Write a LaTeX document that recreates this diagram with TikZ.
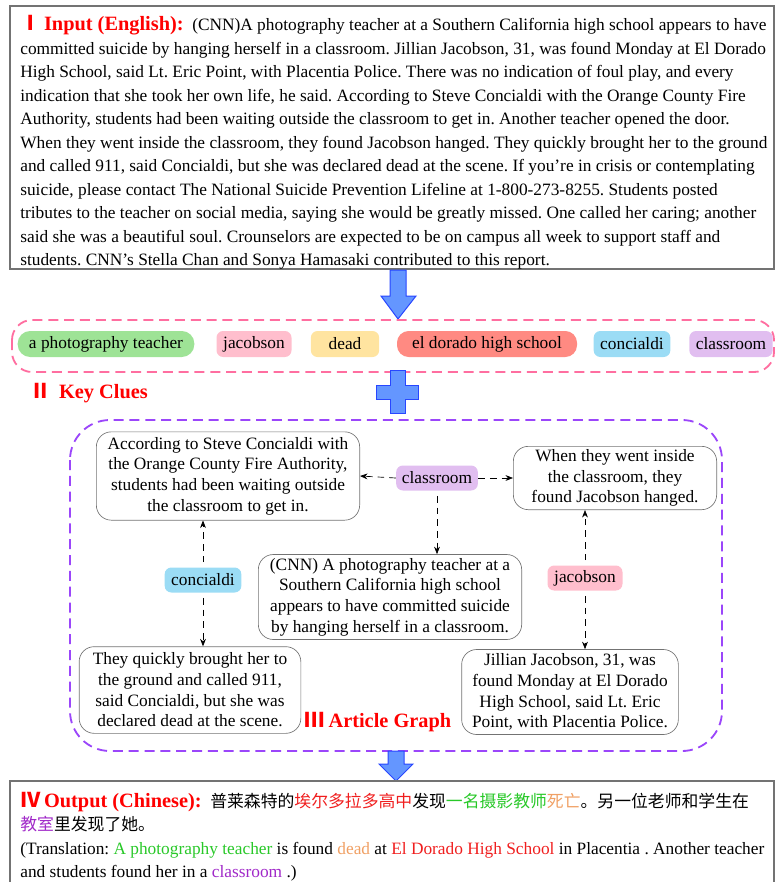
\documentclass[tikz,border=0pt]{standalone}
\usepackage{fontspec}
\setmainfont{Liberation Serif}
\newfontfamily\cjk{Noto Sans CJK SC}
\usetikzlibrary{arrows.meta}
\frenchspacing

\definecolor{keygreen}{RGB}{158,227,150}
\definecolor{keypink}{RGB}{255,190,205}
\definecolor{keyyellow}{RGB}{255,228,160}
\definecolor{keyred}{RGB}{255,138,130}
\definecolor{keyblue}{RGB}{155,220,245}
\definecolor{keypurple}{RGB}{225,190,240}
\definecolor{cluepink}{RGB}{255,110,160}
\definecolor{graphpurple}{RGB}{155,70,250}
\definecolor{arrowblue}{RGB}{100,150,255}
\definecolor{arrowedge}{RGB}{40,70,255}
\definecolor{titlered}{RGB}{255,0,0}
\definecolor{outgreen}{RGB}{40,200,40}
\definecolor{outorange}{RGB}{240,160,100}
\definecolor{outred}{RGB}{240,30,30}
\definecolor{outpurple}{RGB}{160,40,200}

\newcommand{\stagetitle}[2]{\textcolor{titlered}{\fontsize{12.2}{12}\selectfont\bfseries{\cjk #1}\,#2}}

\begin{document}
\begin{tikzpicture}[x=0.6pt,y=-0.6pt,
    font=\fontsize{10.4}{12.4}\selectfont,
    key/.style={rounded corners=4pt,inner sep=1pt,minimum height=15.6pt},
    sent/.style={draw=black!55,rounded corners=9pt,align=center,inner sep=1pt},
    link/.style={dash pattern=on 4pt off 3pt,-{Stealth[length=4.5pt,width=3.5pt]}},
    blockarrow/.style={fill=arrowblue,draw=arrowedge,line width=0.6pt}]
    \useasboundingbox (0,0) rectangle (775,882);
    % Input
    \draw[black!55,line width=0.9pt] (10,6) rectangle (774,269);
    \node[anchor=north west,align=left,inner sep=0pt,font=\fontsize{10.4}{14.1}\selectfont] (input) at (20,15)
        {\stagetitle{Ⅰ}{Input (English):}\ \ (CNN)A photography teacher at a Southern California high school appears to have\\
        committed suicide by hanging herself in a classroom. Jillian Jacobson, 31, was found Monday at El Dorado\\
        High School, said Lt. Eric Point, with Placentia Police. There was no indication of foul play, and every\\
        indication that she took her own life, he said. According to Steve Concialdi with the Orange County Fire\\
        Authority, students had been waiting outside the classroom to get in. Another teacher opened the door.\\
        When they went inside the classroom, they found Jacobson hanged. They quickly brought her to the ground\\
        and called 911, said Concialdi, but she was declared dead at the scene. If you're in crisis or contemplating\\
        suicide, please contact The National Suicide Prevention Lifeline at 1-800-273-8255. Students posted\\
        tributes to the teacher on social media, saying she would be greatly missed. One called her caring; another\\
        said she was a beautiful soul. Crounselors are expected to be on campus all week to support staff and\\
        students. CNN's Stella Chan and Sonya Hamasaki contributed to this report.};
    \draw[blockarrow] (390,270) -- (406,270) -- (406,296) -- (416,296) -- (398,319) -- (381,296) -- (390,296) -- cycle;
    % Key clues
    \draw[cluepink,line width=1.1pt,dash pattern=on 6pt off 3.5pt,rounded corners=12pt] (12,320) rectangle (774,372);
    \node[key,fill=keygreen,rounded corners=7.5pt,minimum width=106pt] (kteacher) at (106,344) {a photography teacher};
    \node[key,fill=keypink,minimum width=45pt] (kjacobson) at (254,344) {jacobson};
    \node[key,fill=keyyellow,minimum width=41pt] (kdead) at (345,344) {dead};
    \node[key,fill=keyred,rounded corners=7pt,minimum width=108pt] (kschool) at (487,344) {el dorado high school};
    \node[key,fill=keyblue,minimum width=46pt] (kconcialdi) at (632,344) {concialdi};
    \node[key,fill=keypurple,minimum width=50pt] (kclassroom) at (731,344) {classroom};
    \node[anchor=west,inner sep=0pt] (cluetitle) at (30,393) {\stagetitle{Ⅱ}{\ Key Clues}};
    \draw[blockarrow] (390,370) -- (405,370) -- (405,385) -- (418,385) -- (418,399) -- (405,399) -- (405,413)
        -- (390,413) -- (390,399) -- (376,399) -- (376,385) -- (390,385) -- cycle;
    % Article graph
    \draw[graphpurple,line width=1.1pt,dash pattern=on 6pt off 3.5pt,rounded corners=24pt] (70,420) rectangle (722,751);
    \node[sent,minimum width=158pt,minimum height=53pt] (steve) at (228,476)
        {According to Steve Concialdi with\\the Orange County Fire Authority,\\students had been waiting outside\\the classroom to get in.};
    \node[sent,minimum width=122pt,minimum height=38pt] (inside) at (615,478)
        {When they went inside\\the classroom, they\\found Jacobson hanged.};
    \node[sent,minimum width=158pt,minimum height=51pt] (cnn) at (390,597)
        {(CNN) A photography teacher at a\\Southern California high school\\appears to have committed suicide\\by hanging herself in a classroom.};
    \node[sent,minimum width=133pt,minimum height=52pt] (ground) at (190,690)
        {They quickly brought her to\\the ground and called 911,\\said Concialdi, but she was\\declared dead at the scene.};
    \node[sent,minimum width=130pt,minimum height=51pt] (jillian) at (570,692)
        {Jillian Jacobson, 31, was\\found Monday at El Dorado\\High School, said Lt. Eric\\Point, with Placentia Police.};
    \node[key,fill=keypurple,minimum width=49pt,minimum height=15pt] (gclassroom) at (437,478) {classroom};
    \node[key,fill=keyblue,minimum width=46pt,minimum height=15pt] (gconcialdi) at (203,580) {concialdi};
    \node[key,fill=keypink,minimum width=45pt,minimum height=15pt] (gjacobson) at (585,578) {jacobson};
    \draw[link] (gclassroom.west) -- (steve.east);
    \draw[link] (gclassroom.east) -- (inside.west);
    \draw[link,shorten <=3pt] (gclassroom.south) -- (gclassroom.south |- cnn.north);
    \draw[link,shorten <=3pt] (gconcialdi.north) -- (gconcialdi.north |- steve.south);
    \draw[link,shorten <=3pt] (gconcialdi.south) -- (gconcialdi.south |- ground.north);
    \draw[link,shorten <=3pt] (gjacobson.north) -- (gjacobson.north |- inside.south);
    \draw[link,shorten <=3pt] (gjacobson.south) -- (gjacobson.south |- jillian.north);
    \node[inner sep=0pt] (graphtitle) at (378,722) {\stagetitle{Ⅲ}{Article Graph}};
    \draw[blockarrow] (388,751) -- (404,751) -- (404,764) -- (413,764) -- (396,781) -- (379,764) -- (388,764) -- cycle;
    % Output
    \draw[black!55,line width=0.9pt] (10,885) -- (10,781) -- (774,781) -- (774,885);
    \node[anchor=north west,align=left,inner sep=0pt,font=\fontsize{10.4}{14}\selectfont] (output) at (20,792)
        {\stagetitle{Ⅳ}{Output (Chinese):}\ \ {\cjk\fontsize{10.1}{14}\selectfont 普莱森特的\textcolor{outred}{埃尔多拉多高中}发现\textcolor{outgreen}{一名摄影教师}\textcolor{outorange}{死亡}。另一位老师和学生在}\\
        {\cjk\fontsize{10.1}{14}\selectfont\textcolor{outpurple}{教室}里发现了她。}\\
        (Translation: \textcolor{outgreen}{A photography teacher} is found \textcolor{outorange}{dead} at \textcolor{outred}{El Dorado High School} in Placentia . Another teacher\\
        and students found her in a \textcolor{outpurple}{classroom} .)};
\end{tikzpicture}
\end{document}
